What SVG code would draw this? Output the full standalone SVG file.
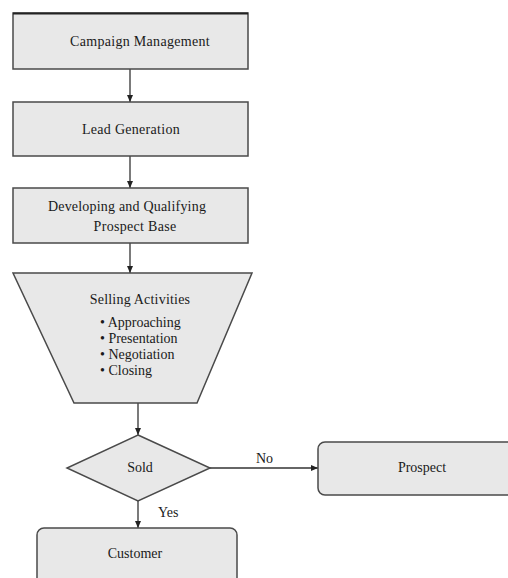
<svg xmlns="http://www.w3.org/2000/svg" width="508" height="578" viewBox="0 0 508 578">
<style>
.n{fill:#e8e8e8;stroke:#4a4a4a;stroke-width:1.5}
.t{font-family:"Liberation Serif","Times New Roman",serif;font-size:14px;fill:#1a1a1a;text-anchor:middle}
.l{font-family:"Liberation Serif","Times New Roman",serif;font-size:14px;fill:#1a1a1a}
.c{stroke:#333;stroke-width:1.3;fill:none;marker-end:url(#a)}
</style>
<defs>
<marker id="a" markerWidth="8" markerHeight="8" refX="7" refY="4" orient="auto" markerUnits="userSpaceOnUse">
<path d="M0,1 L7,4 L0,7 Z" fill="#222"/>
</marker>
</defs>
<rect width="508" height="578" fill="#fff"/>
<g id="connectors">
<line class="c" x1="130" y1="69" x2="130" y2="102"/>
<line class="c" x1="130" y1="156" x2="130" y2="188"/>
<line class="c" x1="130" y1="243" x2="130" y2="273"/>
<line class="c" x1="138" y1="403" x2="138" y2="435"/>
<line class="c" x1="210" y1="468" x2="318" y2="468"/>
<line class="c" x1="138" y1="501" x2="138" y2="528"/>
<text class="l" x="256" y="463">No</text>
<text class="l" x="158" y="517">Yes</text>
</g>
<g id="campaign">
<rect class="n" x="13" y="13" width="235" height="56"/>
<line x1="13" y1="13.5" x2="248" y2="13.5" stroke="#222" stroke-width="2"/>
<text class="t" x="140" y="46" letter-spacing="0.3">Campaign Management</text>
</g>
<g id="lead">
<rect class="n" x="13" y="102" width="235" height="54"/>
<text class="t" x="131" y="134" letter-spacing="0.3">Lead Generation</text>
</g>
<g id="developing">
<rect class="n" x="13" y="188" width="235" height="55"/>
<text class="t" x="127" y="211" letter-spacing="0.2">Developing and Qualifying</text>
<text class="t" x="135" y="231" letter-spacing="0.3">Prospect Base</text>
</g>
<g id="selling">
<polygon class="n" points="13,273 252,273 197,403 74,403"/>
<text class="t" x="140" y="304" letter-spacing="0.2">Selling Activities</text>
<text class="l" x="100" y="327">• Approaching</text>
<text class="l" x="100" y="343">• Presentation</text>
<text class="l" x="100" y="359">• Negotiation</text>
<text class="l" x="100" y="375">• Closing</text>
</g>
<g id="sold">
<polygon class="n" points="138,435 210,468 138,501 67,468"/>
<text class="t" x="140" y="472">Sold</text>
</g>
<g id="prospect">
<rect class="n" x="318" y="442" width="210" height="53" rx="7"/>
<text class="t" x="422" y="472">Prospect</text>
</g>
<g id="customer">
<rect class="n" x="37" y="528" width="200" height="60" rx="7"/>
<text class="t" x="135" y="558">Customer</text>
</g>
</svg>
